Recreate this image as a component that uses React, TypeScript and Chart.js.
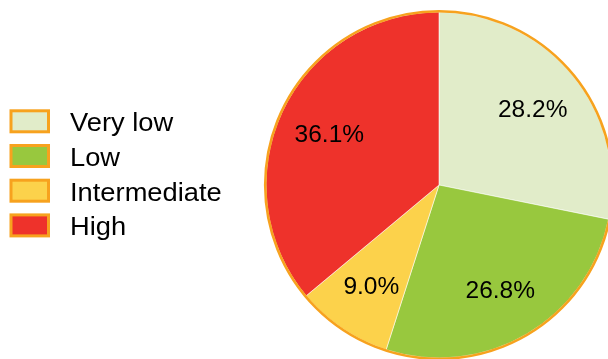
import React, { useEffect, useRef } from "react";
import { Chart, registerables } from "chart.js";

Chart.register(...registerables);

const categories = ["Very low", "Low", "Intermediate", "High"];
const shares = [28.2, 26.8, 9.0, 36.1];
const percentLabels = ["28.2%", "26.8%", "9.0%", "36.1%"];
const sliceColors = ["#E1ECC9", "#98C83E", "#FCD24B", "#EE322B"];
const ringColor = "#F7A21E";

const FONT = "'Liberation Sans', Arial, sans-serif";

const ringAndLabels = {
  id: "ringAndLabels",
  afterDatasetsDraw(chart: any) {
    const ctx = chart.ctx;
    const meta = chart.getDatasetMeta(0);
    const arcs = meta.data;
    if (!arcs.length) return;
    const cx = arcs[0].x;
    const cy = arcs[0].y;
    const R = arcs[0].outerRadius;
    ctx.save();
    ctx.beginPath();
    ctx.arc(cx, cy, R + 0.8, 0, Math.PI * 2);
    ctx.lineWidth = 2.6;
    ctx.strokeStyle = ringColor;
    ctx.stroke();
    ctx.fillStyle = "#000";
    ctx.font = `24.5px ${FONT}`;
    ctx.textAlign = "center";
    ctx.textBaseline = "middle";
    arcs.forEach((arc: any, i: number) => {
      const mid = (arc.startAngle + arc.endAngle) / 2;
      const r = R * 0.7;
      ctx.fillText(percentLabels[i], cx + Math.cos(mid) * r, cy + Math.sin(mid) * r + 2);
    });
    ctx.restore();
  },
  afterDraw(chart: any) {
    const ctx = chart.ctx;
    ctx.save();
    const rowTop = 110.8;
    const rowStep = 34.7;
    categories.forEach((name, i) => {
      const y = rowTop + i * rowStep;
      ctx.fillStyle = sliceColors[i];
      ctx.fillRect(11, y, 37.5, 21);
      ctx.lineWidth = 3;
      ctx.strokeStyle = ringColor;
      ctx.strokeRect(11, y, 37.5, 21);
      ctx.save();
      ctx.translate(70, y + 20.5);
      ctx.scale(1.05, 1);
      ctx.fillStyle = "#000";
      ctx.font = `26px ${FONT}`;
      ctx.textAlign = "left";
      ctx.textBaseline = "alphabetic";
      ctx.fillText(name, 0, 0);
      ctx.restore();
    });
    ctx.restore();
  },
};

export default function App() {
  const ref = useRef<HTMLCanvasElement | null>(null);
  useEffect(() => {
    if (!ref.current) return;
    const chart = new Chart(ref.current, {
      type: "pie",
      data: {
        labels: categories,
        datasets: [
          {
            data: shares,
            backgroundColor: sliceColors,
            borderColor: "rgba(255,255,255,0.55)",
            borderWidth: 1,
            radius: 173,
          } as any,
        ],
      },
      options: {
        responsive: false,
        animation: false,
        layout: { padding: { left: 270, right: 0, top: 11, bottom: 0 } },
        plugins: {
          legend: { display: false },
          tooltip: { enabled: false },
        },
      },
      plugins: [ringAndLabels],
    });
    return () => chart.destroy();
  }, []);
  return (
    <div style={{ position: "absolute", left: 0, top: 0, width: 608, height: 359, overflow: "hidden" }}>
      <canvas ref={ref} width={608} height={359} style={{ display: "block" }} />
    </div>
  );
}
